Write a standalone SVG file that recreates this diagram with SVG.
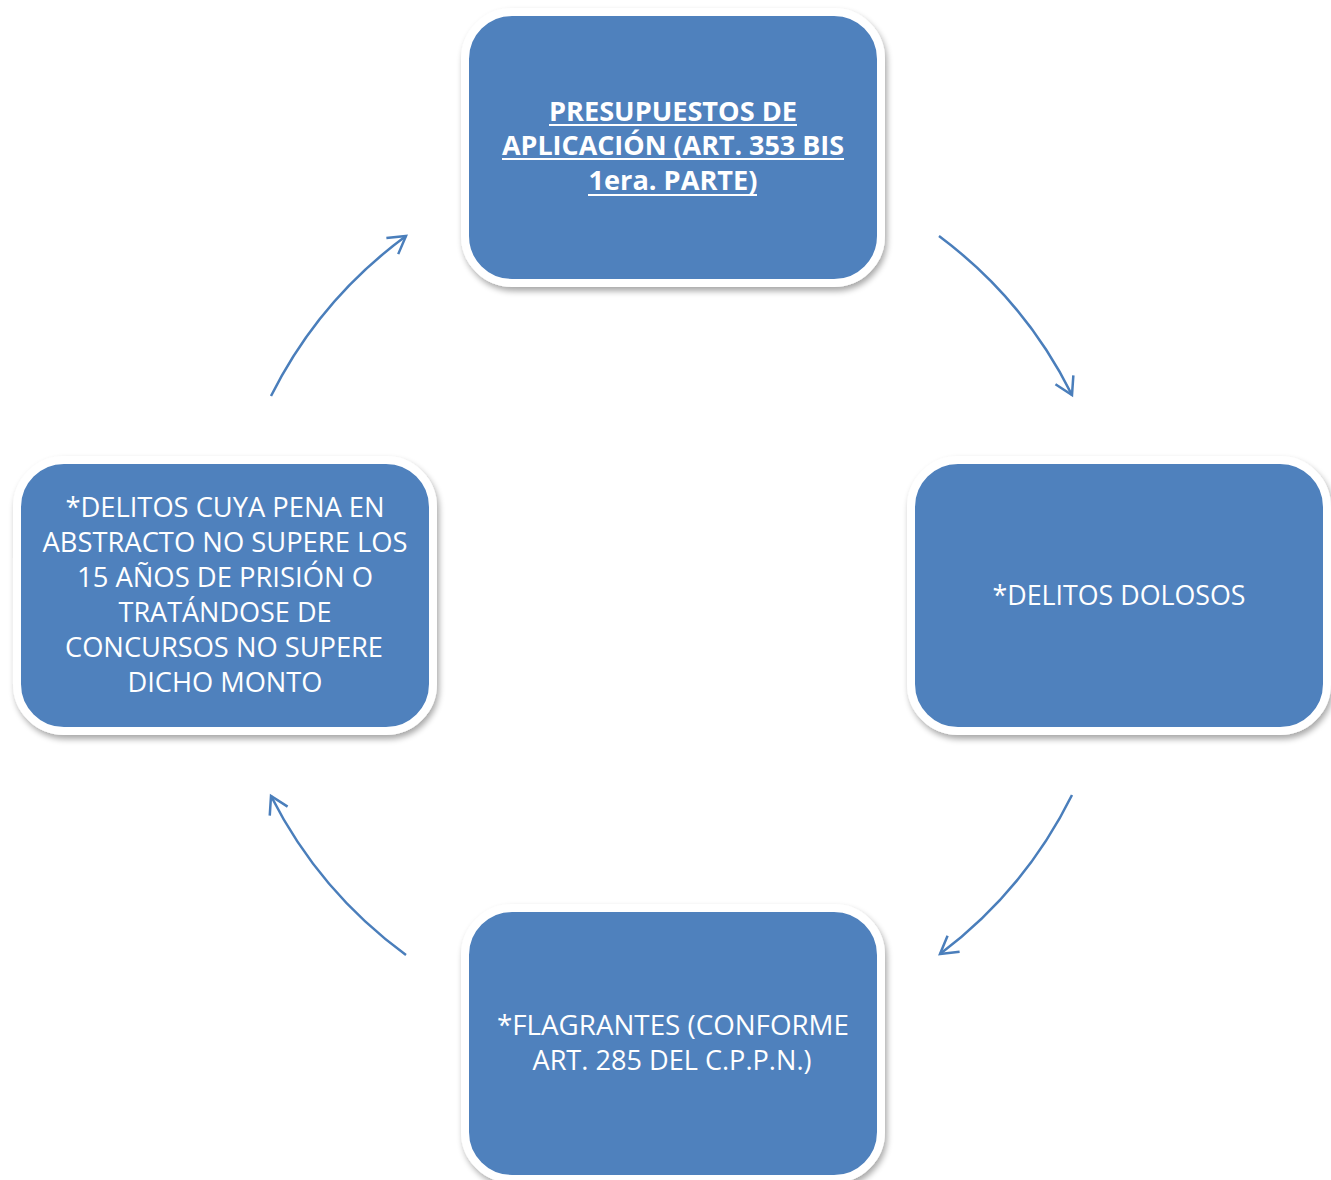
<svg xmlns="http://www.w3.org/2000/svg" width="1331" height="1180" viewBox="0 0 1331 1180">
<style>
.box{fill:#4F81BD;stroke:#FFFFFF;stroke-width:8}
.t{font-family:"Open Sans","Noto Sans","Liberation Sans",sans-serif;font-size:27px;fill:#FFFFFF;text-anchor:middle}
.b{font-weight:bold}
.ul{stroke:#FFFFFF;stroke-width:2}
.arc{fill:none;stroke:#4A7EBB;stroke-width:2.5}
</style>
<defs>
<filter id="sh" x="-10%" y="-10%" width="125%" height="130%">
<feGaussianBlur in="SourceAlpha" stdDeviation="3"/>
<feOffset dx="2" dy="4" result="o"/>
<feComponentTransfer><feFuncA type="linear" slope="0.35"/></feComponentTransfer>
<feMerge><feMergeNode/><feMergeNode in="SourceGraphic"/></feMerge>
</filter>
<marker id="ah" markerUnits="userSpaceOnUse" markerWidth="40" markerHeight="40" refX="0" refY="0" viewBox="-20 -20 40 40" orient="auto">
<path d="M-17,-10 L0,0 L-17,10" fill="none" stroke="#4A7EBB" stroke-width="2.5"/>
</marker>
</defs>
<rect width="1331" height="1180" fill="#FFFFFF"/>
<g id="connectors">
<path class="arc" d="M939,236 A447,447 0 0 1 1072,395" marker-end="url(#ah)"/>
<path class="arc" d="M1072,795 A447,447 0 0 1 940,954" marker-end="url(#ah)"/>
<path class="arc" d="M406,955 A447,447 0 0 1 271,796" marker-end="url(#ah)"/>
<path class="arc" d="M271,396 A447,447 0 0 1 406,236" marker-end="url(#ah)"/>
</g>
<g id="node-top">
<rect class="box" x="465" y="12" width="416" height="271" rx="47" filter="url(#sh)"/>
<text class="t b" x="673" y="121" textLength="248" lengthAdjust="spacingAndGlyphs">PRESUPUESTOS DE</text>
<text class="t b" x="673" y="155" textLength="342" lengthAdjust="spacingAndGlyphs">APLICACIÓN (ART. 353 BIS</text>
<text class="t b" x="673" y="190" textLength="169" lengthAdjust="spacingAndGlyphs">1era. PARTE)</text>
<line class="ul" x1="549" y1="125" x2="797" y2="125"/>
<line class="ul" x1="502" y1="159" x2="844" y2="159"/>
<line class="ul" x1="588" y1="195" x2="757" y2="195"/>
</g>
<g id="node-right">
<rect class="box" x="911" y="460" width="416" height="271" rx="47" filter="url(#sh)"/>
<text class="t" x="1119" y="605" textLength="253" lengthAdjust="spacingAndGlyphs">*DELITOS DOLOSOS</text>
</g>
<g id="node-bottom">
<rect class="box" x="465" y="908" width="416" height="271" rx="47" filter="url(#sh)"/>
<text class="t" x="673" y="1035" textLength="352" lengthAdjust="spacingAndGlyphs">*FLAGRANTES (CONFORME</text>
<text class="t" x="672" y="1070" textLength="279" lengthAdjust="spacingAndGlyphs">ART. 285 DEL C.P.P.N.)</text>
</g>
<g id="node-left">
<rect class="box" x="17" y="460" width="416" height="271" rx="47" filter="url(#sh)"/>
<text class="t" x="225" y="517" textLength="319" lengthAdjust="spacingAndGlyphs">*DELITOS CUYA PENA EN</text>
<text class="t" x="225" y="552" textLength="365" lengthAdjust="spacingAndGlyphs">ABSTRACTO NO SUPERE LOS</text>
<text class="t" x="225" y="587" textLength="296" lengthAdjust="spacingAndGlyphs">15 AÑOS DE PRISIÓN O</text>
<text class="t" x="225" y="622" textLength="213" lengthAdjust="spacingAndGlyphs">TRATÁNDOSE DE</text>
<text class="t" x="224" y="657" textLength="318" lengthAdjust="spacingAndGlyphs">CONCURSOS NO SUPERE</text>
<text class="t" x="225" y="692" textLength="195" lengthAdjust="spacingAndGlyphs">DICHO MONTO</text>
</g>
</svg>
